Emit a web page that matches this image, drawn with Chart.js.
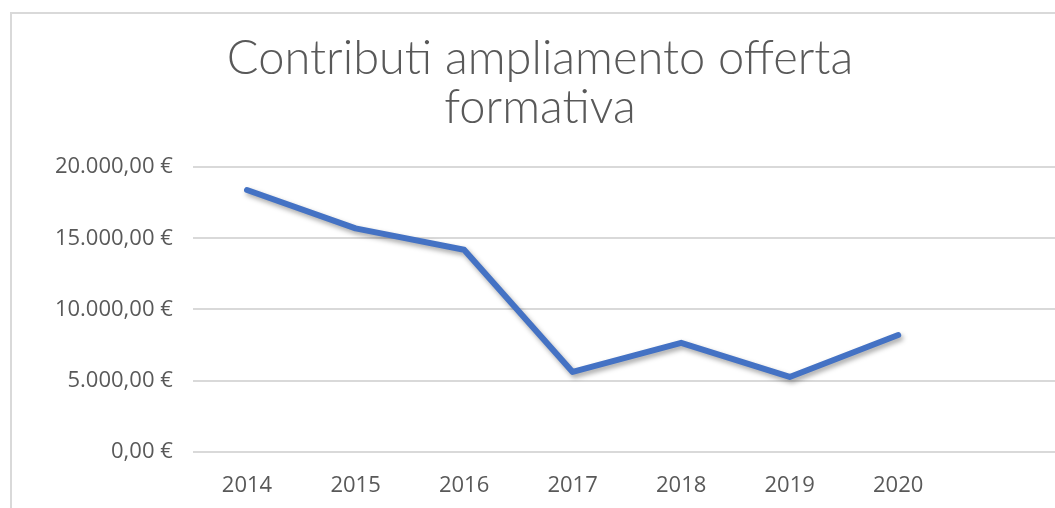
<!DOCTYPE html>
<html lang="it">
<head>
<meta charset="utf-8">
<title>Contributi ampliamento offerta formativa</title>
<script src="https://cdn.jsdelivr.net/npm/chart.js@4"></script>
<style>
    html, body {
        margin: 0;
        padding: 0;
        background: #ffffff;
        overflow: hidden;
    }
    .cornice {
        position: absolute;
        left: 10px;
        top: 12px;
        width: 1052px;
        height: 514px;
        border-left: 2px solid #d9d9d9;
        border-top: 2px solid #d9d9d9;
    }
</style>
</head>
<body>
<div class="cornice">
    <canvas id="grafico"></canvas>
</div>
<script>
// dati
const anni = ["2014", "2015", "2016", "2017", "2018", "2019", "2020", ""];
const contributi = [18400, 15700, 14200, 5600, 7650, 5250, 8200, null];
const etichetteY = ["0,00 €", "5.000,00 €", "10.000,00 €", "15.000,00 €", "20.000,00 €"];
const titolo = ["Contributi ampliamento offerta", "formativa"];

const grigio = "#595959";

// ombra sotto la linea, come nel grafico Excel
const ombraLinea = {
    id: "ombraLinea",
    beforeDatasetDraw(chart) {
        const ctx = chart.ctx;
        ctx.save();
        ctx.shadowColor = "rgba(0, 0, 0, 0.35)";
        ctx.shadowBlur = 5;
        ctx.shadowOffsetX = 2;
        ctx.shadowOffsetY = 3;
    },
    afterDatasetDraw(chart) {
        chart.ctx.restore();
    },
};

document.addEventListener("DOMContentLoaded", () => {
    const canvas = document.getElementById("grafico");

    new Chart(canvas, {
        type: "line",
        data: {
            labels: anni,
            datasets: [
                {
                    label: "Contributi",
                    data: contributi,
                    borderColor: "#4472C4",
                    backgroundColor: "#4472C4",
                    borderWidth: 6,
                    borderCapStyle: "round",
                    borderJoinStyle: "round",
                    pointRadius: 0,
                    pointHoverRadius: 0,
                    tension: 0,
                },
            ],
        },
        options: {
            responsive: true,
            maintainAspectRatio: false,
            animation: false,
            layout: {
                padding: { left: 7, right: 3, top: 0, bottom: 8 },
            },
            plugins: {
                legend: { display: false },
                tooltip: { enabled: false },
                title: {
                    display: true,
                    text: titolo,
                    color: grigio,
                    font: {
                        family: "Lato, 'DejaVu Sans', sans-serif",
                        size: 47,
                        weight: 300,
                        lineHeight: 1.045,
                    },
                    padding: { top: 20, bottom: 35 },
                },
            },
            scales: {
                x: {
                    offset: true,
                    grid: { display: false, drawTicks: false },
                    border: { display: false },
                    ticks: {
                        color: grigio,
                        padding: 21,
                        font: { family: "'Open Sans', sans-serif", size: 22 },
                    },
                },
                y: {
                    min: 0,
                    max: 20000,
                    afterFit: function (scala) {
                        scala.width = 173.75;
                    },
                    grid: {
                        color: "#d9d9d9",
                        lineWidth: 2,
                        drawTicks: false,
                    },
                    border: { display: false },
                    ticks: {
                        stepSize: 5000,
                        color: grigio,
                        padding: 20,
                        font: { family: "'Open Sans', sans-serif", size: 22 },
                        callback: function (value, index) {
                            return etichetteY[index];
                        },
                    },
                },
            },
        },
        plugins: [ombraLinea],
    });
});
</script>
</body>
</html>
